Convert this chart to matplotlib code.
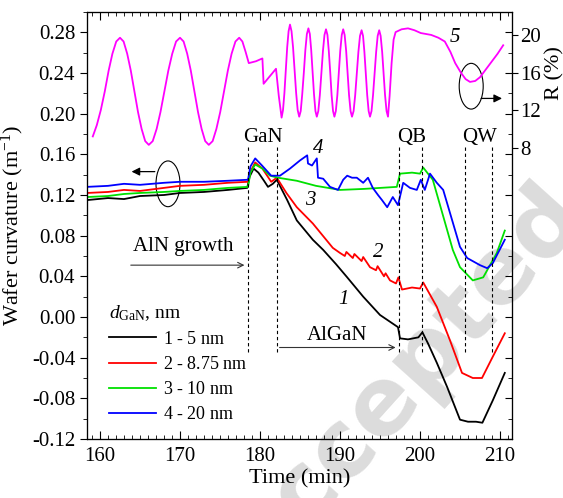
import matplotlib
matplotlib.use("Agg")
import matplotlib.pyplot as plt
from matplotlib.patches import Ellipse
from matplotlib.ticker import MultipleLocator, FixedLocator

plt.rcParams['font.family'] = ['Liberation Serif', 'DejaVu Serif']
plt.rcParams['mathtext.fontset'] = 'custom'
plt.rcParams['mathtext.rm'] = 'Liberation Serif'
plt.rcParams['mathtext.it'] = 'Liberation Serif:italic'
plt.rcParams['axes.unicode_minus'] = False

# curve 1 - 5 nm (black)
t1 = [158.4, 161, 163, 165, 168, 170, 173, 176, 178.4, 178.7, 179.2, 179.8, 180.5, 181.0, 181.6,
      182.1, 183.4, 184.6, 186.6, 187.9, 189.5, 190.9, 192.9, 195.0, 197.25, 197.5, 198.5,
      199.8, 200.3, 201.0, 202.1, 203.4, 205.0, 206.0, 207.0, 207.8, 209.1, 210.6]
c1 = [0.115, 0.117, 0.116, 0.119, 0.120, 0.122, 0.123, 0.125, 0.127, 0.138, 0.146, 0.142, 0.134,
      0.128, 0.131, 0.135, 0.115, 0.095, 0.076, 0.066, 0.052, 0.039, 0.020, 0.002, -0.010,
      -0.021, -0.022, -0.020, -0.015, -0.026, -0.045, -0.069, -0.101, -0.103, -0.103, -0.104,
      -0.082, -0.055]

# curve 2 - 8.75 nm (red)
t2 = [158.4, 161, 163, 165, 168, 170, 173, 176, 178.5, 178.8, 179.4, 180.3, 181.4, 182.1, 183.3,
      184.6, 186.6, 189.1, 190.0, 190.6, 190.8, 191.6, 191.8, 192.7, 192.9, 193.75, 194.5,
      194.7, 195.5, 195.7, 196.25, 197.0, 197.3, 197.75, 199.0, 200.0, 200.4, 202.1, 203.75,
      205.25, 206.6, 207.75, 209.1, 210.6]
c2 = [0.122, 0.123, 0.125, 0.124, 0.127, 0.129, 0.130, 0.132, 0.133, 0.143, 0.152, 0.146, 0.133,
      0.137, 0.122, 0.108, 0.092, 0.068, 0.063, 0.060, 0.064, 0.058, 0.062, 0.055, 0.059, 0.049,
      0.046, 0.050, 0.040, 0.043, 0.036, 0.033, 0.039, 0.027, 0.029, 0.028, 0.034, 0.010,
      -0.023, -0.055, -0.060, -0.060, -0.039, -0.016]

# curve 3 - 10 nm (green)
t3 = [158.4, 161, 163, 165, 168, 170, 173, 176, 178.5, 178.8, 179.4, 180.3, 181.25, 182.25,
      184.6, 187.0, 190.0, 193.0, 197.1, 197.5, 199.0, 200.0, 200.4, 201.6, 204.1, 205.0,
      206.6, 207.9, 209.6, 210.6]
c3 = [0.118, 0.119, 0.121, 0.122, 0.123, 0.124, 0.125, 0.127, 0.128, 0.142, 0.150, 0.146, 0.139,
      0.137, 0.134, 0.129, 0.125, 0.126, 0.128, 0.141, 0.142, 0.141, 0.147, 0.135, 0.066, 0.049,
      0.036, 0.039, 0.063, 0.085]

# curve 4 - 20 nm (blue)
t4 = [158.4, 161, 163, 165, 168, 170, 173, 176, 178.5, 178.8, 179.4, 180.25, 181.4, 182.5,
      183.75, 185.0, 185.9, 186.0, 186.5, 187.1, 187.25, 187.9, 188.75, 189.75, 190.4, 190.9,
      191.5, 192.1, 192.9, 193.5, 194.1, 194.75, 195.25, 195.9, 196.6, 197.25, 197.9, 198.75,
      199.6, 200.1, 200.6, 201.25, 202.1, 202.9, 205.0, 205.9, 207.5, 208.4, 209.1, 210.6]
c4 = [0.128, 0.129, 0.131, 0.130, 0.132, 0.133, 0.133, 0.134, 0.135, 0.148, 0.156, 0.149, 0.139,
      0.139, 0.146, 0.154, 0.159, 0.151, 0.149, 0.156, 0.137, 0.136, 0.128, 0.125, 0.135, 0.139,
      0.137, 0.137, 0.132, 0.137, 0.127, 0.120, 0.115, 0.108, 0.118, 0.110, 0.132, 0.127,
      0.125, 0.135, 0.125, 0.141, 0.132, 0.125, 0.069, 0.058, 0.051, 0.048, 0.053, 0.076]

# curve 5 - reflectance R (%) (magenta, right axis)
t5 = [159.1, 159.6, 160.1, 160.6, 161.08, 161.55, 162.03, 162.5,
      162.95, 163.4, 163.85, 164.3, 164.75, 165.2, 165.65, 166.1,
      166.59, 167.08, 167.56, 168.05, 168.54, 169.03, 169.51, 170.0,
      170.45, 170.9, 171.35, 171.8, 172.25, 172.7, 173.15, 173.6,
      174.08, 174.55, 175.03, 175.5, 175.98, 176.45, 176.93, 177.4,
      177.8, 178.2, 178.6, 179.5, 180.3, 180.45, 182.0, 182.35, 182.7,
      182.875, 183.05, 183.225, 183.4, 183.575, 183.75,
      183.94, 184.13, 184.33, 184.52, 184.71, 184.9,
      185.09, 185.28, 185.48, 185.67, 185.86, 186.05,
      186.23, 186.4, 186.58, 186.75, 186.93, 187.1,
      187.29, 187.48, 187.68, 187.87, 188.06, 188.25,
      188.43, 188.6, 188.78, 188.95, 189.13, 189.3,
      189.48, 189.67, 189.85, 190.03, 190.22, 190.4,
      190.58, 190.77, 190.95, 191.13, 191.32, 191.5,
      191.7, 191.9, 192.1, 192.3, 192.5, 192.7,
      192.88, 193.05, 193.23, 193.4, 193.58, 193.75,
      193.94, 194.13, 194.33, 194.52, 194.71, 194.9,
      195.08, 195.27, 195.45, 195.63, 195.82, 196.0,
      196.2, 196.45, 196.7, 196.95, 197.7, 198.5, 199.3, 200.1, 201.4, 202.3, 203.1, 203.8,
      204.4, 205.1, 205.7, 206.25, 206.9, 207.5, 208.2, 208.9, 209.7, 210.4]
r5 = [9.2, 10.4, 12.0, 14.0, 16.2, 18.0, 19.3, 19.7,
      19.3, 18.0, 16.2, 14.0, 11.8, 10.0, 8.7, 8.3,
      8.7, 10.0, 11.8, 14.0, 16.2, 18.0, 19.3, 19.7,
      19.3, 18.0, 16.2, 14.0, 11.8, 10.0, 8.7, 8.3,
      8.7, 10.0, 11.8, 14.0, 16.2, 18.0, 19.3, 19.7,
      19.3, 18.2, 17.0, 17.2, 17.5, 14.8, 16.4, 13.5, 11.2,
      12.0, 13.8, 16.2, 18.7, 20.4, 21.1,
      20.4, 18.7, 16.2, 13.8, 12.0, 11.3,
      11.9, 13.7, 16.0, 18.4, 20.1, 20.7,
      20.1, 18.4, 16.0, 13.7, 11.9, 11.3,
      11.9, 13.6, 16.0, 18.3, 20.0, 20.6,
      20.0, 18.3, 16.0, 13.6, 11.9, 11.3,
      11.9, 13.6, 16.0, 18.3, 20.0, 20.6,
      20.0, 18.3, 16.0, 13.6, 11.9, 11.3,
      11.9, 13.6, 15.9, 18.2, 19.9, 20.5,
      19.9, 18.2, 15.9, 13.6, 11.9, 11.3,
      11.9, 13.6, 15.9, 18.2, 19.9, 20.5,
      19.9, 18.2, 15.9, 13.6, 11.9, 11.3,
      13.5, 17.0, 19.5, 20.3, 20.6, 20.7, 20.5, 20.2, 20.0, 19.7, 19.3, 18.2,
      17.0, 16.0, 15.3, 15.0, 15.1, 15.5, 16.3, 17.1, 18.0, 18.9]

labels = [r"$\mathit{1}$ - 5 nm", r"$\mathit{2}$ - 8.75 nm", r"$\mathit{3}$ - 10 nm", r"$\mathit{4}$ - 20 nm"]
colors = ["black", "#ff0000", "#00e000", "#0000ff"]

event_times = [178.5, 182.1, 197.4, 200.25, 205.6, 209.0]

fig = plt.figure(figsize=(5.63, 4.98), dpi=100)
ax = fig.add_axes([87 / 563, 1 - 439 / 498, 425 / 563, 427 / 498])
ax.set_facecolor('none')

# faint watermark
fig.text(405 / 563, 1 - 385 / 498, "Accepted", rotation=48, fontsize=68, fontweight='bold',
         family='DejaVu Sans', color='#dcdcdc', ha='center', va='center', zorder=-1)

for t, c, col, lab in zip([t1, t2, t3, t4], [c1, c2, c3, c4], colors, labels):
    ax.plot(t, c, color=col, lw=1.3, label=lab)

ax.vlines(event_times, -0.034, 0.167, colors='black', linestyles=(0, (3, 2.5)), lw=0.8)

ax.set_xlim(158.375, 211.5)
ax.set_ylim(-0.12, 0.30)
ax.xaxis.set_major_locator(MultipleLocator(10))
ax.xaxis.set_minor_locator(MultipleLocator(1))
ax.yaxis.set_major_locator(FixedLocator([-0.12, -0.08, -0.04, 0.0, 0.04, 0.08, 0.12, 0.16, 0.20, 0.24, 0.28]))
ax.yaxis.set_minor_locator(MultipleLocator(0.02))
ax.yaxis.set_major_formatter(lambda v, p: f"{v:.2f}")
ax.tick_params(axis='x', which='both', direction='in', top=True, labelsize=15, pad=6)
ax.tick_params(axis='x', which='major', length=6)
ax.tick_params(axis='x', which='minor', length=3)
ax.tick_params(axis='y', which='both', direction='out', labelsize=15)
ax.tick_params(axis='y', which='major', length=5)
ax.tick_params(axis='y', which='minor', length=3)
ax.set_xlabel("Time (min)", fontsize=16, labelpad=2)
ax.set_ylabel("Wafer curvature (m$^{-1}$)", fontsize=16, labelpad=4)

# mirrored inward ticks of the left axis on the right spine
ax3 = ax.twinx()
ax3.set_ylim(ax.get_ylim())
ax3.yaxis.set_major_locator(MultipleLocator(0.04))
ax3.yaxis.set_minor_locator(MultipleLocator(0.02))
ax3.tick_params(axis='y', which='both', direction='in', labelright=False)
ax3.tick_params(axis='y', which='major', length=5)
ax3.tick_params(axis='y', which='minor', length=3)

ax2 = ax.twinx()
ax2.plot(t5, r5, color='#ff00ff', lw=1.3)
ax2.set_ylim(-23.0, 22.44)
ax2.yaxis.set_major_locator(FixedLocator([8, 12, 16, 20]))
ax2.yaxis.set_minor_locator(FixedLocator([]))
ax2.tick_params(axis='y', which='major', direction='out', length=4, labelsize=15, pad=2)
ax2.text(1.1, 0.857, "R (%)", rotation=90, fontsize=16, ha='center', va='center',
         transform=ax2.transAxes)

# annotations
for txt, x, y in [("GaN", 180.4, 0.177), ("QB", 199.0, 0.177), ("QW", 207.5, 0.177)]:
    ax.text(x, y, txt, fontsize=15, ha='center', va='center')
for txt, x, y in [("5", 204.4, 0.275), ("4", 187.25, 0.166), ("3", 186.25, 0.115),
                  ("2", 194.75, 0.063), ("1", 190.4, 0.017)]:
    ax.text(x, y, txt, fontsize=15, style='italic', ha='center', va='center')

ax.text(170.4, 0.069, "AlN growth", fontsize=15, ha='center', va='center')
ax.annotate("", xy=(178.4, 0.051), xytext=(163.5, 0.051),
            arrowprops=dict(arrowstyle='->', color='#333333', lw=0.8))
ax.text(189.6, -0.018, "AlGaN", fontsize=15, ha='center', va='center')
ax.annotate("", xy=(197.3, -0.030), xytext=(182.1, -0.030),
            arrowprops=dict(arrowstyle='->', color='#333333', lw=0.8))

ax.add_patch(Ellipse((168.5, 0.131), 3.0, 0.045, fill=False, lw=0.8, color='black'))
ax.annotate("", xy=(163.6, 0.143), xytext=(167.2, 0.143),
            arrowprops=dict(arrowstyle='-|>', color='black', lw=0.9, mutation_scale=12))
ax.add_patch(Ellipse((206.4, 0.227), 3.0, 0.045, fill=False, lw=0.8, color='black'))
ax.annotate("", xy=(210.6, 0.215), xytext=(207.3, 0.215),
            arrowprops=dict(arrowstyle='-|>', color='black', lw=0.9, mutation_scale=12))

leg = ax.legend(loc='upper left', bbox_to_anchor=(0.03, 0.34), frameon=False, fontsize=13,
                title=r"$d_{\mathrm{GaN}}$, nm", title_fontsize=14, handlelength=2.6,
                handletextpad=0.4, labelspacing=0.45, borderpad=0)
leg._legend_box.align = "left"

fig.savefig("out.png", dpi=100)
